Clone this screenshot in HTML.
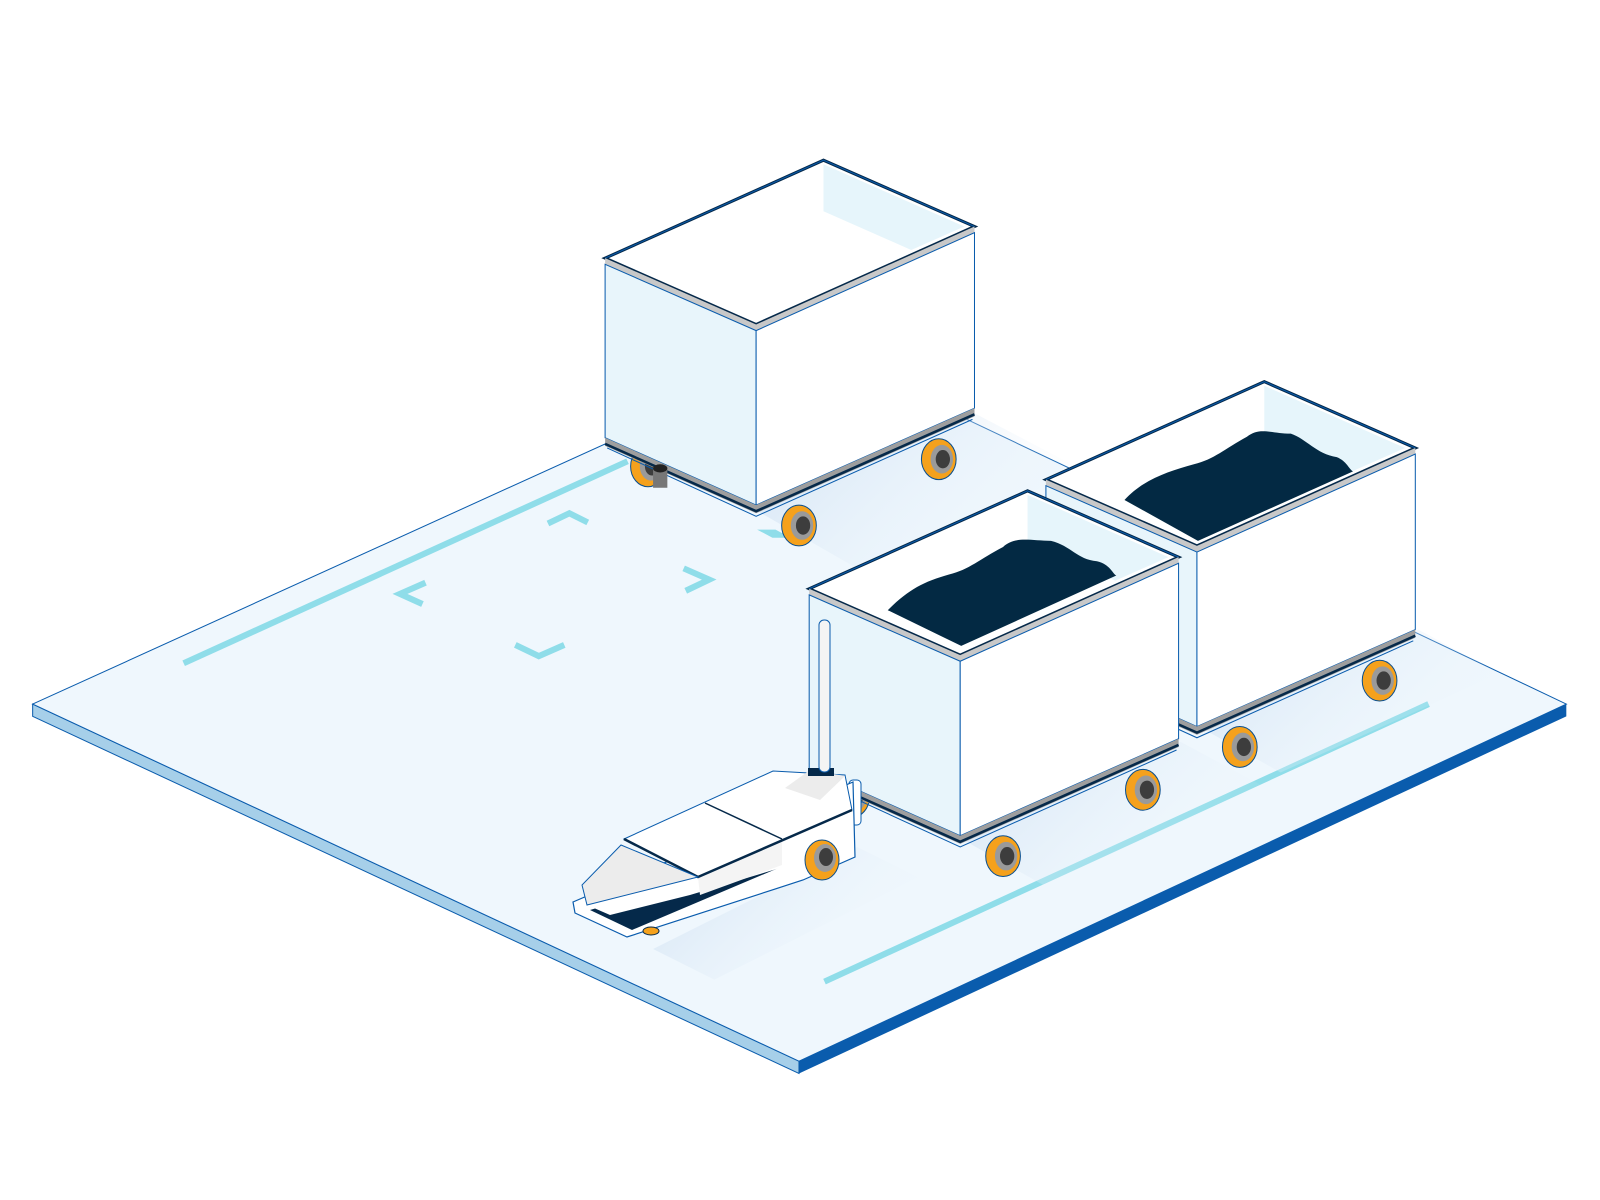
<!DOCTYPE html>
<html><head><meta charset="utf-8"><style>html,body{margin:0;padding:0;background:#fff}svg{display:block}</style></head>
<body>
<svg width="1600" height="1200" viewBox="0 0 1568 1176" xmlns="http://www.w3.org/2000/svg">
<defs>
<linearGradient id="sh" x1="0" y1="0" x2="1" y2="0.5"><stop offset="0" stop-color="#c9dcf0"/><stop offset="1" stop-color="#eef6fc" stop-opacity="0"/></linearGradient>
<g id="wheel">
<ellipse cx="0" cy="0" rx="17" ry="20" fill="#f5a11c" stroke="#0a4f8f" stroke-width="1"/>
<ellipse cx="3" cy="0" rx="11" ry="14" fill="#9a9a9a"/>
<ellipse cx="4" cy="0" rx="7" ry="9" fill="#3d3d3d"/>
</g>
<g id="cart">
<use href="#wheel" x="42" y="204"/>
<polygon points="0,0 214,-96 362,-31 148,65" fill="#fff"/>
<polygon points="214,-92 352,-31 300,-8 214,-46" fill="#e6f5fb"/>
<polygon points="0,0 214,-96 362,-31 148,65" fill="none" stroke="#05294a" stroke-width="3"/>
<polyline points="0,0 214,-96 362,-31" fill="none" stroke="#0a5cad" stroke-width="1"/>
<polygon points="0,0 148,65 362,-31 362,-25 148,71 0,6" fill="#c8c8c8"/>
<polygon points="0,6 148,71 148,242 0,176" fill="#e8f5fb" stroke="#0a5cad" stroke-width="1"/>
<polygon points="148,71 362,-25 362,147 148,242" fill="#fff" stroke="#0a5cad" stroke-width="1"/>
<polygon points="0,176 148,242 362,147 362,155 148,250 0,184" fill="#9e9e9e"/>
<polyline points="0,182 148,248 362,153" fill="none" stroke="#05294a" stroke-width="2.5"/>
<polyline points="2,186 148,253 360,158" fill="none" stroke="#0a5cad" stroke-width="1"/>
<rect x="180" y="246" width="8" height="14" fill="#8a8a8a"/>
<use href="#wheel" x="190" y="262"/>
<rect x="318" y="182" width="8" height="14" fill="#8a8a8a"/>
<use href="#wheel" x="327" y="197"/>
</g>
</defs>
<polygon points="32,690 783,1040 783,1052 32,702" fill="#a6cfe9" stroke="#0a5cad" stroke-width="1"/>
<polygon points="783,1040 1535,690 1535,702 783,1052" fill="#0a5cad"/>
<polygon points="32,690 800,341 1535,690 783,1040" fill="#eff7fd" stroke="#0a5cad" stroke-width="1"/>
<line x1="180" y1="650" x2="615" y2="452" stroke="#8fdde9" stroke-width="6"/>
<line x1="808" y1="962" x2="1400" y2="690" stroke="#8fdde9" stroke-width="6"/>
<polyline points="537,513 558,503 576,512" fill="none" stroke="#8fdde9" stroke-width="6"/>
<polyline points="417,571 392,582 414,592" fill="none" stroke="#8fdde9" stroke-width="6"/>
<polyline points="670,557 695,568 672,579" fill="none" stroke="#8fdde9" stroke-width="6"/>
<polyline points="505,632 528,643 553,632" fill="none" stroke="#8fdde9" stroke-width="6"/>
<polygon points="742,519 760,519 775,527 757,527" fill="#8fdde9"/>
<polygon points="741,500 955,405 1060,460 845,560" fill="url(#sh)" opacity="0.8"/>
<polygon points="1175,712 1390,617 1470,660 1255,757" fill="url(#sh)" opacity="0.8"/>
<polygon points="942,822 1157,727 1237,770 1022,867" fill="url(#sh)" opacity="0.8"/>
<polygon points="640,930 840,830 900,860 700,960" fill="url(#sh)" opacity="0.8"/>
<use href="#cart" x="593" y="253"/>
<rect x="640" y="458" width="14" height="20" fill="#777"/>
<ellipse cx="647" cy="459" rx="7" ry="4" fill="#222"/>
<use href="#cart" x="1025" y="470"/>
<path d="M1102,490 C1120,470 1145,462 1170,455 C1190,450 1200,440 1222,428 C1235,418 1245,425 1265,425 C1280,430 1290,445 1310,448 C1320,452 1322,460 1326,462 L1174,530 Z" fill="#032943"/>
<use href="#cart" x="793" y="577"/>
<path d="M870,598 C890,578 905,570 930,563 C950,558 960,548 983,536 C995,525 1010,530 1030,530 C1050,535 1055,548 1075,550 C1088,553 1090,562 1094,564 L942,633 Z" fill="#032943"/>
<g transform="scale(0.98)">
<rect x="849" y="780" width="12" height="45" rx="4" fill="#fff" stroke="#0a5cad" stroke-width="1"/>
<polygon points="573,902 853,782 855,857 803,880 627,937 575,913" fill="#fff" stroke="#0a5cad" stroke-width="1.2"/>
<polygon points="590,910 800,848 802,858 632,930" fill="#05294a"/>
<polygon points="587,905 698,877 852,810 853,850 800,862 690,895 610,915" fill="#fff"/>
<polygon points="698,877 782,839 782,865 700,895" fill="#f4f4f4"/>
<polygon points="624,839 773,771 845,775 852,810 698,877" fill="#fff" stroke="#0a5cad" stroke-width="1"/>
<polyline points="624,839 698,877 852,810" fill="none" stroke="#05294a" stroke-width="2.5"/>
<line x1="705" y1="803" x2="782" y2="839" stroke="#05294a" stroke-width="1.5"/>
<polygon points="621,845 582,885 587,905 698,877" fill="#ececec" stroke="#0a5cad" stroke-width="1"/>
<polygon points="785,788 810,770 845,776 820,800" fill="#ececec"/>
<rect x="808" y="768" width="26" height="8" fill="#05294a"/>
<rect x="819" y="620" width="11" height="152" rx="5" fill="#f4f4f4" stroke="#0a5cad" stroke-width="1"/>
<ellipse cx="822" cy="860" rx="17" ry="20" fill="#f5a11c" stroke="#0a4f8f"/>
<ellipse cx="825" cy="858" rx="11" ry="14" fill="#9a9a9a"/>
<ellipse cx="826" cy="857" rx="7" ry="9" fill="#3d3d3d"/>
<ellipse cx="651" cy="931" rx="8" ry="4" fill="#f5a11c" stroke="#05294a"/>
</g>
</svg>
</body></html>
